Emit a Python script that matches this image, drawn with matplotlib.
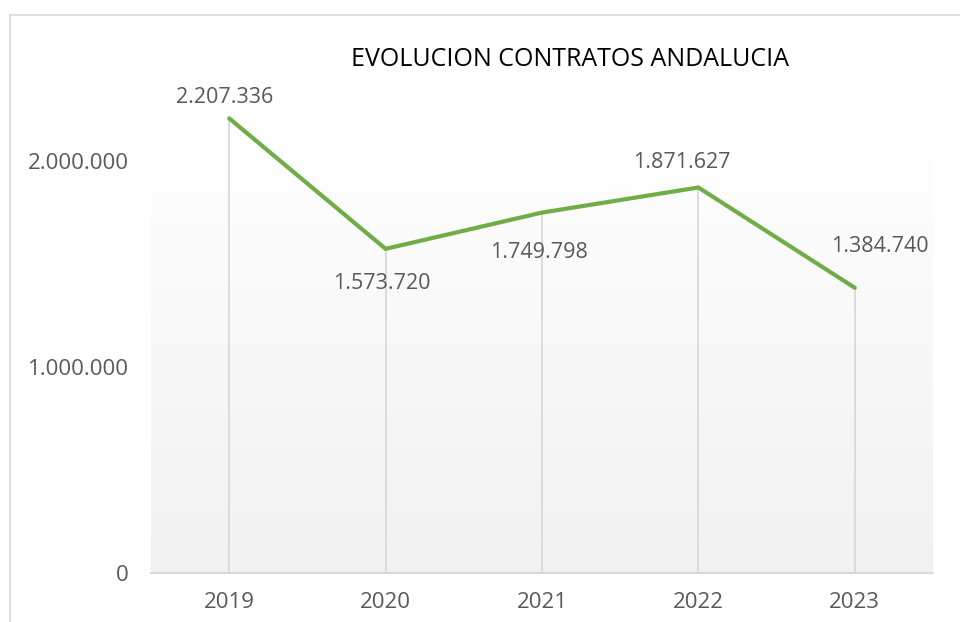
import numpy as np
import matplotlib.pyplot as plt
from matplotlib.lines import Line2D

# data
years = ['2019', '2020', '2021', '2022', '2023']
contratos = [2207336, 1573720, 1749798, 1871627, 1384740]
labels = ['2.207.336', '1.573.720', '1.749.798', '1.871.627', '1.384.740']
# label offsets in points (dx, dy) relative to each point
offs = [(-3, 15), (-3, -25), (-2, -29), (-12, 18), (18, 30)]

plt.rcParams['font.family'] = ['Open Sans', 'DejaVu Sans']

fig = plt.figure(figsize=(9.6, 6.22), dpi=100)
fig.patch.set_facecolor('white')

# outer chart frame (light gray)
fig.add_artist(Line2D([9.5/960, 9.5/960], [0, 1-15/622], color='#d9d9d9', lw=1.2))
fig.add_artist(Line2D([9.5/960, 1], [1-15/622, 1-15/622], color='#d9d9d9', lw=1.2))

ax = fig.add_axes([151/960, 49/622, 782/960, 448/622])
x = np.arange(len(years))
ax.set_xlim(-0.5, len(years) - 0.5)
ax.set_ylim(0, 2175000)

# gradient background
grad = np.linspace(1, 0, 256).reshape(-1, 1)
ax.imshow(grad, extent=[0, 1, 0, 1], transform=ax.transAxes, aspect='auto',
          cmap=plt.matplotlib.colors.LinearSegmentedColormap.from_list('g', ['#f1f1f1', '#ffffff']),
          zorder=0)

# drop lines
ax.vlines(x, 0, contratos, color='#d9d9d9', lw=1.3, zorder=1, clip_on=False)
ax.plot(x, contratos, color='#70ad47', lw=3, zorder=3, clip_on=False,
        solid_capstyle='round', solid_joinstyle='miter')

for xi, v, lab, (dx, dy) in zip(x, contratos, labels, offs):
    ax.annotate(lab, (xi, v), xytext=(dx, dy), textcoords='offset points',
                ha='center', va='center', fontsize=15.5, color='#595959', zorder=4,
                annotation_clip=False)

for s in ['top', 'right', 'left']:
    ax.spines[s].set_visible(False)
ax.spines['bottom'].set_color('#d9d9d9')
ax.spines['bottom'].set_linewidth(1.5)

ax.set_xticks(x)
ax.set_xticklabels(years)
ax.set_yticks([0, 1000000, 2000000])
ax.set_yticklabels(['0', '1.000.000', '2.000.000'])
ax.tick_params(axis='both', length=0, labelsize=16, labelcolor='#595959')
ax.tick_params(axis='x', pad=14)
ax.tick_params(axis='y', pad=16)

fig.text(570/960, 1-60/622, 'EVOLUCION CONTRATOS ANDALUCIA', ha='center', va='center',
         fontsize=18, color='black')

fig.savefig('out.png', dpi=100)
